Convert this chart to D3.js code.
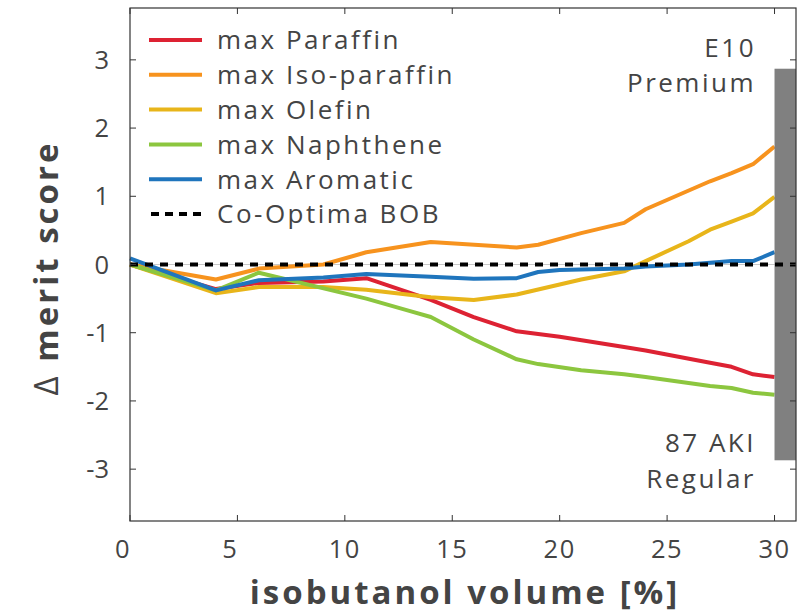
<!DOCTYPE html>
<html>
<head>
<meta charset="utf-8">
<script src="https://cdn.jsdelivr.net/npm/d3@7"></script>
<style>
  html, body { margin: 0; padding: 0; background: #fff; }
  svg { display: block; }
  text { font-family: "Open Sans", sans-serif; fill: #444; }
</style>
</head>
<body>
<svg id="chart" width="801" height="613"></svg>
<script>
// Change in merit score vs. isobutanol blend volume, per hydrocarbon-class blendstock
const seriesNames = ["max Paraffin", "max Iso-paraffin", "max Olefin", "max Naphthene", "max Aromatic"];
const seriesColors = ["#dd2233", "#f7931e", "#e8b51a", "#8cc63f", "#1f75bd"];

const paraffin = [[0,0],[4,-0.36],[6,-0.27],[9,-0.25],[11,-0.2],[14,-0.52],[16,-0.77],[18,-0.98],[20,-1.06],[23,-1.21],[24,-1.26],[27,-1.44],[28,-1.5],[29,-1.61],[30,-1.65]];
const isoParaffin = [[0,0],[4,-0.22],[6,-0.06],[9,0],[11,0.18],[14,0.33],[18,0.25],[19,0.29],[21,0.46],[23,0.61],[24,0.81],[27,1.22],[28,1.34],[29,1.47],[30,1.73]];
const olefin = [[0,0],[4,-0.42],[6,-0.33],[9,-0.33],[11,-0.37],[14,-0.48],[16,-0.52],[18,-0.44],[21,-0.22],[23,-0.1],[24,0.05],[26,0.34],[27,0.51],[28,0.63],[29,0.75],[30,0.99]];
const naphthene = [[0,0],[4,-0.38],[6,-0.12],[11,-0.5],[13,-0.68],[14,-0.77],[16,-1.1],[18,-1.39],[19,-1.46],[21,-1.55],[23,-1.61],[24,-1.65],[27,-1.78],[28,-1.81],[29,-1.88],[30,-1.91]];
const aromatic = [[0,0.09],[4,-0.38],[6,-0.23],[9,-0.19],[11,-0.14],[14,-0.18],[16,-0.21],[18,-0.2],[19,-0.11],[20,-0.08],[23,-0.06],[24,-0.03],[26,0],[28,0.05],[29,0.05],[30,0.18]];
const seriesData = [paraffin, isoParaffin, olefin, naphthene, aromatic];

const baselineName = "Co-Optima BOB";
const baselineValue = 0;

const xTicks = [0, 5, 10, 15, 20, 25, 30];
const yTicks = [-3, -2, -1, 0, 1, 2, 3];

// E10 span from regular (87 AKI) to premium
const rangeBand = { x0: 30, x1: 31, low: -2.87, high: 2.87 };

const svg = d3.select("#chart");
const m = { left: 130, right: 796, top: 8, bottom: 521 };

const x = d3.scaleLinear().domain([0, 31]).range([m.left, m.right]);
const y = d3.scaleLinear().domain([-3.76, 3.76]).range([m.bottom, m.top]);

const plot = svg.append("g");

// thin reference line at zero
plot.append("line")
  .attr("x1", x(0)).attr("x2", x(31))
  .attr("y1", y(0)).attr("y2", y(0))
  .attr("stroke", "#c8c8c8").attr("stroke-width", 1);

const line = d3.line().x(d => x(d[0])).y(d => y(d[1]));

plot.selectAll("path.series")
  .data(seriesData)
  .join("path")
  .attr("class", "series")
  .attr("d", line)
  .attr("fill", "none")
  .attr("stroke", (d, i) => seriesColors[i])
  .attr("stroke-width", 4)
  .attr("stroke-linejoin", "round");

// regular-to-premium band at E10
plot.append("rect")
  .attr("x", x(rangeBand.x0))
  .attr("width", x(rangeBand.x1) - x(rangeBand.x0))
  .attr("y", y(rangeBand.high))
  .attr("height", y(rangeBand.low) - y(rangeBand.high))
  .attr("fill", "#808080");

// baseline blendstock
plot.append("line")
  .attr("x1", x(0)).attr("x2", x(31))
  .attr("y1", y(baselineValue)).attr("y2", y(baselineValue))
  .attr("stroke", "#000").attr("stroke-width", 4)
  .attr("stroke-dasharray", "8,7");

// frame with inward ticks on all four sides
const axisColor = "#333";
const frame = svg.append("g");
frame.append("rect")
  .attr("x", m.left).attr("y", m.top)
  .attr("width", m.right - m.left).attr("height", m.bottom - m.top)
  .attr("fill", "none").attr("stroke", axisColor).attr("stroke-width", 1.2);

const tickLen = 6;
xTicks.forEach(t => {
  frame.append("line").attr("x1", x(t)).attr("x2", x(t))
    .attr("y1", m.bottom).attr("y2", m.bottom - tickLen)
    .attr("stroke", axisColor).attr("stroke-width", 1);
  frame.append("line").attr("x1", x(t)).attr("x2", x(t))
    .attr("y1", m.top).attr("y2", m.top + tickLen)
    .attr("stroke", axisColor).attr("stroke-width", 1);
});
yTicks.forEach(t => {
  frame.append("line").attr("x1", m.left).attr("x2", m.left + tickLen)
    .attr("y1", y(t)).attr("y2", y(t))
    .attr("stroke", axisColor).attr("stroke-width", 1);
  frame.append("line").attr("x1", m.right).attr("x2", m.right - tickLen)
    .attr("y1", y(t)).attr("y2", y(t))
    .attr("stroke", axisColor).attr("stroke-width", 1);
});

const tickFont = 25.5;
const textFont = 26;
const textSpacing = 2.5;

// tick labels
svg.append("g").selectAll("text")
  .data(xTicks).join("text")
  .attr("x", d => x(d) - (d < 10 ? 7 : 0))
  .attr("y", 558)
  .attr("text-anchor", "middle")
  .attr("font-size", tickFont)
  .attr("letter-spacing", 1.5)
  .text(d => d);

svg.append("g").selectAll("text")
  .data(yTicks).join("text")
  .attr("x", 109)
  .attr("y", d => y(d))
  .attr("dy", "0.36em")
  .attr("text-anchor", "end")
  .attr("font-size", tickFont)
  .text(d => d);

// axis titles
svg.append("text")
  .attr("x", 465).attr("y", 604)
  .attr("text-anchor", "middle")
  .attr("font-size", 33)
  .attr("font-weight", "bold")
  .attr("letter-spacing", 3)
  .text("isobutanol volume [%]");

const yTitle = svg.append("text")
  .attr("transform", "translate(58,268) rotate(-90)")
  .attr("text-anchor", "middle")
  .attr("font-size", 33)
  .attr("font-weight", "bold")
  .attr("letter-spacing", 3);
yTitle.append("tspan").attr("font-weight", "normal").text("Δ");
yTitle.append("tspan").text(" merit score");

// band annotations
const note = svg.append("g").attr("font-size", textFont).attr("text-anchor", "end").attr("letter-spacing", textSpacing);
note.append("text").attr("x", 756).attr("y", 57).text("E10");
note.append("text").attr("x", 756).attr("y", 92).text("Premium");
note.append("text").attr("x", 756).attr("y", 452).text("87 AKI");
note.append("text").attr("x", 756).attr("y", 488).text("Regular");

// legend
const legend = svg.append("g");
const rowH = 34.8, row0 = 40;
seriesNames.forEach((name, i) => {
  const yy = row0 + i * rowH;
  legend.append("line").attr("x1", 149).attr("x2", 202)
    .attr("y1", yy).attr("y2", yy)
    .attr("stroke", seriesColors[i]).attr("stroke-width", 4);
  legend.append("text").attr("x", 217).attr("y", yy).attr("dy", "0.36em")
    .attr("font-size", textFont).attr("letter-spacing", textSpacing)
    .attr("fill", "#111").text(name);
});
{
  const yy = row0 + seriesNames.length * rowH;
  legend.append("line").attr("x1", 151).attr("x2", 204)
    .attr("y1", yy).attr("y2", yy)
    .attr("stroke", "#000").attr("stroke-width", 4)
    .attr("stroke-dasharray", "8,6");
  legend.append("text").attr("x", 217).attr("y", yy).attr("dy", "0.36em")
    .attr("font-size", textFont).attr("letter-spacing", textSpacing)
    .attr("fill", "#111").text(baselineName);
}
</script>
</body>
</html>
